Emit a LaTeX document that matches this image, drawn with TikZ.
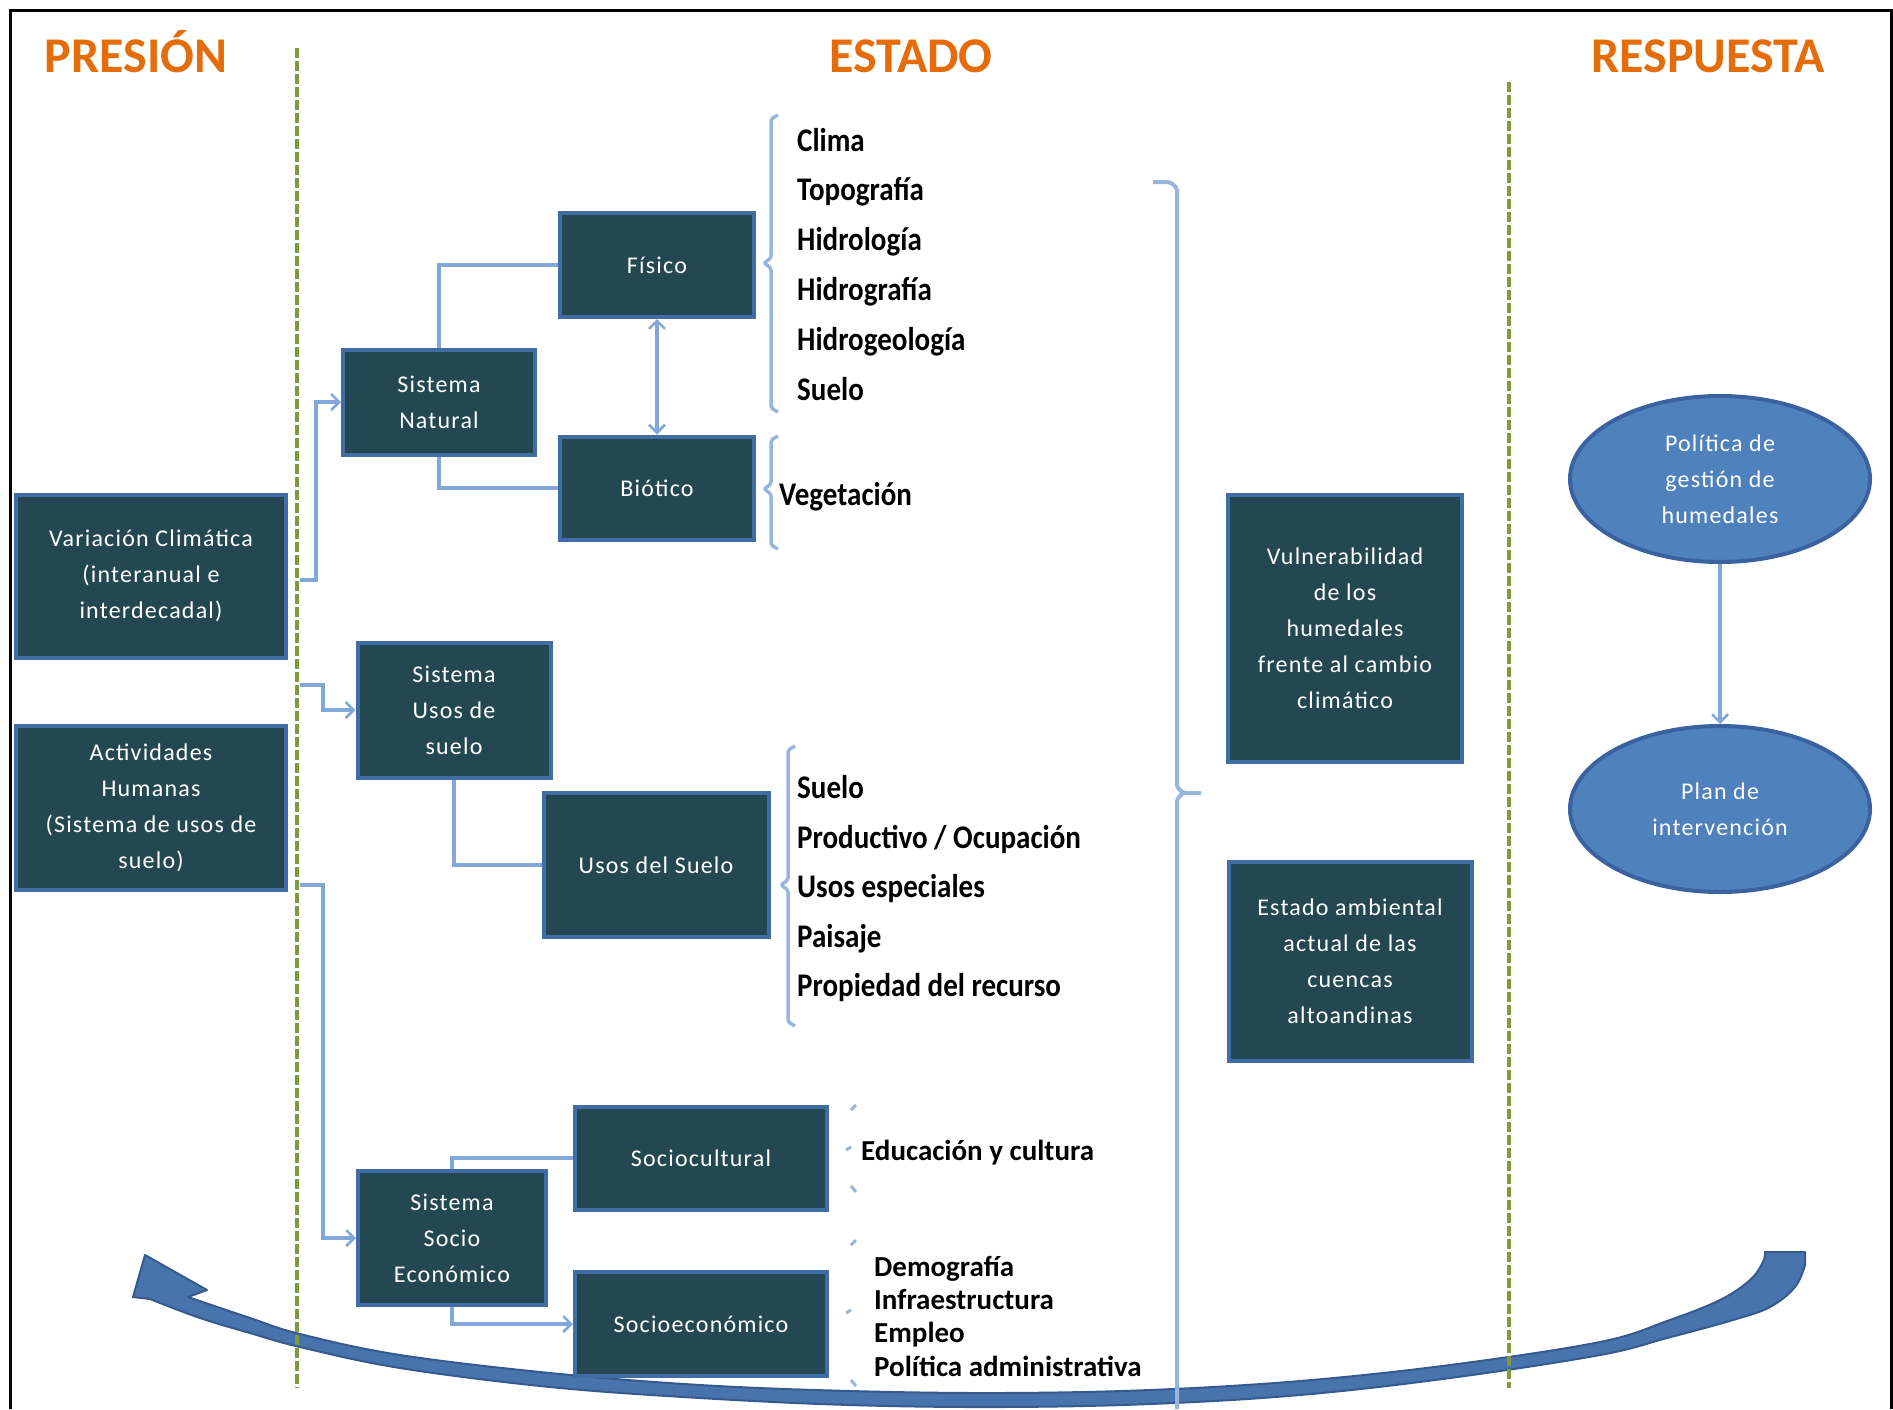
\documentclass[tikz,border=0pt]{standalone}
\usepackage{fontspec}
\setmainfont{Carlito}
\newfontfamily\listfont[FakeStretch=0.88]{Carlito}
\newfontfamily\boxfont[LetterSpace=5.0]{Carlito}
\usetikzlibrary{arrows.meta,shapes.geometric}
\definecolor{boxfill}{HTML}{244852}
\definecolor{boxedge}{HTML}{416DA6}
\definecolor{conn}{HTML}{82A8D9}
\definecolor{brk}{HTML}{98B6DB}
\definecolor{ttl}{HTML}{E46C0A}
\definecolor{dgreen}{HTML}{7C9B3A}
\definecolor{ellfill}{HTML}{4F81BD}
\definecolor{elledge}{HTML}{3A62A0}
\definecolor{bandfill}{HTML}{4874AE}
\definecolor{bandedge}{HTML}{355A8E}
\begin{document}
\begin{tikzpicture}[x=1pt,y=-1pt,
  darkbox/.style={draw=boxedge, line width=4pt, fill=boxfill, text=white, align=center, inner sep=0pt, font=\boxfont\fontsize{24}{36}\selectfont},
  ellbox/.style={ellipse, draw=elledge, line width=4pt, fill=ellfill, text=white, align=center, inner sep=0pt, minimum width=300pt, minimum height=166pt, font=\boxfont\fontsize{24}{36}\selectfont},
  ttlstyle/.style={text=ttl, font=\fontsize{50}{60}\selectfont\bfseries, anchor=base, inner sep=0pt},
  listitem/.style={anchor=mid west, inner sep=0pt, font=\listfont\bfseries\fontsize{33}{36}\selectfont},
  smallitem/.style={anchor=mid west, inner sep=0pt, font=\bfseries\fontsize{29}{33}\selectfont},
  connline/.style={draw=conn, line width=3.5pt},
  barb/.tip={Straight Barb[length=8pt,width=16pt,line width=2.5pt]},
  connarrow/.style={connline, -barb},
  brack/.style={draw=brk, line width=3.5pt, line join=round, rounded corners=2pt},
  divider/.style={draw=dgreen, line width=4pt, dash pattern=on 10pt off 3pt},
]
\useasboundingbox (0,0) rectangle (1893,1409);
\fill[white] (0,0) rectangle (1893,1409);
% frame
\draw[black, line width=3pt] (10,1409) -- (10,10) -- (1891,10) -- (1891,1409);

% big curved arrow
\filldraw[fill=bandfill, draw=bandedge, line width=2pt, line join=round]
  (145,1255) -- (207,1290) --
  plot[smooth, tension=0.6] coordinates {(188,1297) (250,1318) (300,1334) (400,1355) (550,1373) (700,1385) (850,1391) (1000,1393) (1150,1390) (1300,1381) (1450,1365) (1600,1342) (1667,1321) (1720,1300) (1750,1280) (1763,1262) (1765,1252)}
  -- (1805,1252) --
  plot[smooth, tension=0.6] coordinates {(1805,1265) (1795,1287) (1770,1307) (1733,1320) (1667,1338) (1600,1355) (1450,1378) (1300,1395) (1150,1404) (1000,1407) (850,1405) (700,1398) (550,1387) (400,1368) (300,1347) (250,1333) (200,1318) (150,1299)}
  -- (133,1297) -- cycle;

% dividers
\draw[divider] (297,48) -- (297,1388);
\draw[divider] (1509,82) -- (1509,1388);

% titles
\node[ttlstyle] (tpres) at (136,72) {PRESIÓN};
\node[ttlstyle] (test) at (911,72) {ESTADO};
\node[ttlstyle] (tresp) at (1708,72) {RESPUESTA};

% boxes
\node[darkbox, minimum width=194pt, minimum height=104pt] (fis) at (657,265) {Físico};
\node[darkbox, minimum width=192pt, minimum height=105pt] (sn) at (439,402) {Sistema\\Natural};
\node[darkbox, minimum width=194pt, minimum height=103pt] (bio) at (657,488) {Biótico};
\node[darkbox, minimum width=270pt, minimum height=163pt] (var) at (151,576) {Variación Climática\\(interanual e\\interdecadal)};
\node[darkbox, minimum width=270pt, minimum height=164pt] (act) at (151,808) {Actividades\\Humanas\\(Sistema de usos de\\suelo)};
\node[darkbox, minimum width=193pt, minimum height=135pt] (sus) at (454,710) {Sistema\\Usos de\\suelo};
\node[darkbox, minimum width=225pt, minimum height=144pt] (uds) at (656,865) {Usos del Suelo};
\node[darkbox, minimum width=188pt, minimum height=134pt] (sse) at (452,1238) {Sistema\\Socio\\Económico};
\node[darkbox, minimum width=252pt, minimum height=103pt] (soc) at (701,1158) {Sociocultural};
\node[darkbox, minimum width=252pt, minimum height=104pt] (soe) at (701,1324) {Socioeconómico};
\node[darkbox, minimum width=234pt, minimum height=267pt] (vul) at (1345,628) {Vulnerabilidad\\de los\\humedales\\frente al cambio\\climático};
\node[darkbox, minimum width=243pt, minimum height=199pt] (est) at (1350,961) {Estado ambiental\\actual de las\\cuencas\\altoandinas};
\node[ellbox] (pol) at (1720,479) {Política de\\gestión de\\humedales};
\node[ellbox] (plan) at (1720,809) {Plan de\\intervención};

% connectors
\coordinate (v0) at (300,580);
\coordinate (a0) at (300,685);
\coordinate (a1) at (300,885);
\draw[connarrow] (v0) -- (316,580) |- (sn.west);
\draw[connline] (sn.north) |- (fis.west);
\draw[connline] (sn.south) |- (bio.west);
\draw[connline, barb-barb] (fis.south) -- (bio.north);
\draw[connarrow] (a0) -- (323,685) |- (sus.west);
\draw[connarrow] (a1) -- (323,885) |- (sse.west);
\draw[connline] (sus.south) |- (uds.west);
\draw[connline] (sse.north) |- (soc.west);
\draw[connarrow] (sse.south) |- (soe.west);
\draw[connarrow] (pol.south) -- (plan.north);

% brackets
\draw[brack] (778,115) -- (771,119) -- (771,258) -- (764,263) -- (771,268) -- (771,408) -- (778,412);
\draw[brack] (778,436) -- (771,440) -- (771,484) -- (764,489) -- (771,494) -- (771,545) -- (778,549);
\draw[brack] (795,746) -- (788,750) -- (788,880) -- (781,885) -- (788,890) -- (788,1022) -- (795,1026);
\draw[brack, line width=3pt] (856,1105) -- (851,1110);
\draw[brack, line width=3pt] (851,1147) -- (846,1150);
\draw[brack, line width=3pt] (851,1186) -- (856,1192);
\draw[brack, line width=3pt] (856,1240) -- (851,1245);
\draw[brack, line width=3pt] (851,1310) -- (846,1313);
\draw[brack, line width=3pt] (851,1380) -- (856,1386);
\draw[brack, line width=4pt] (1153,182) -- (1170,182) -- (1177,188) -- (1177,787) -- (1183,793) -- (1201,793);
\draw[brack, line width=4pt] (1183,793) -- (1177,799) -- (1177,1409);

% lists
\node[listitem] (l1) at (797,149) {Clima};
\node[listitem] (l2) at (797,198) {Topografía};
\node[listitem] (l3) at (797,248) {Hidrología};
\node[listitem] (l4) at (797,298) {Hidrografía};
\node[listitem] (l5) at (797,348) {Hidrogeología};
\node[listitem] (l6) at (797,398) {Suelo};
\node[listitem] (veg) at (779,503) {Vegetación};
\node[listitem] (u1) at (797,796) {Suelo};
\node[listitem] (u2) at (797,846) {Productivo / Ocupación};
\node[listitem] (u3) at (797,895) {Usos especiales};
\node[listitem] (u4) at (797,945) {Paisaje};
\node[listitem] (u5) at (797,994) {Propiedad del recurso};
\node[smallitem] (e1) at (861,1158) {Educación y cultura};
\node[smallitem] (s1) at (874,1274) {Demografía};
\node[smallitem] (s2) at (874,1307) {Infraestructura};
\node[smallitem] (s3) at (874,1340) {Empleo};
\node[smallitem] (s4) at (874,1374) {Política administrativa};
\end{tikzpicture}
\end{document}
